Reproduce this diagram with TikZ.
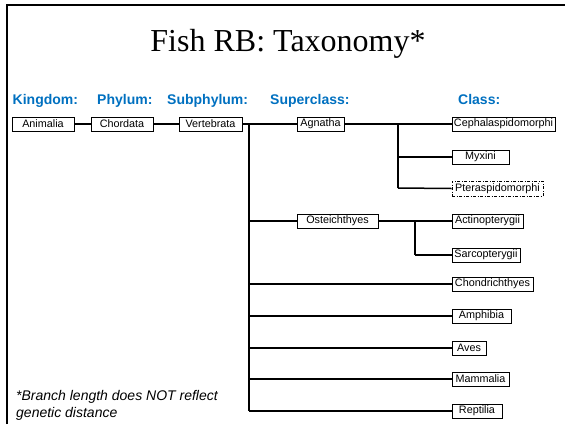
\documentclass[tikz,border=0pt]{standalone}
\usepackage{fontspec}
\setmainfont{Liberation Serif}
\setsansfont{Liberation Sans}
\definecolor{hdrblue}{RGB}{0,112,192}
\begin{document}
\begin{tikzpicture}[x=1pt,y=-1pt,
  taxbox/.style={draw=black,line width=0.9pt,fill=white,inner sep=0pt,minimum height=14pt,
    font=\sffamily\fontsize{10.8}{12}\selectfont},
  dashbox/.style={taxbox,dash pattern=on 3pt off 1.5pt on 1pt off 1.5pt},
  hdr/.style={anchor=base west,inner sep=0pt,text=hdrblue,font=\sffamily\bfseries\fontsize{14}{16}\selectfont},
  conn/.style={line width=1.5pt},
  trunk/.style={line width=2.2pt}]
\useasboundingbox (0,0) rectangle (565,424);
% frame
\draw[line width=2pt] (7,424) -- (7,5) -- (565,5);
% title
\node[anchor=base,inner sep=0pt,font=\fontsize{32}{36}\selectfont] (title) at (288,51) {Fish RB: Taxonomy*};
% headers
\node[hdr] (hk) at (12.5,104) {Kingdom:};
\node[hdr] (hp) at (97,104) {Phylum:};
\node[hdr] (hs) at (167,104) {Subphylum:};
\node[hdr] (hsc) at (270,104) {Superclass:};
\node[hdr] (hc) at (458,104) {Class:};
% coordinates for branch points
\coordinate (t1) at (249,124);
\coordinate (t2) at (249,221);
\coordinate (t3) at (249,284);
\coordinate (t4) at (249,316);
\coordinate (t5) at (249,348);
\coordinate (t6) at (249,379);
\coordinate (t7) at (249,411);
\coordinate (a1) at (398,124);
\coordinate (a2) at (398,157);
\coordinate (a3) at (398,188);
\coordinate (o1) at (415,221);
\coordinate (o2) at (415,255);
% connectors
\draw[trunk] (t1) -- (t7);
\draw[conn] (a1) -- (a3);
\draw[conn] (o1) -- (o2);
% boxes
\node[taxbox,minimum width=62pt] (animalia) at (43,124) {Animalia};
\node[taxbox,minimum width=62pt] (chordata) at (122,124) {Chordata};
\node[taxbox,minimum width=63pt] (vertebrata) at (210.5,124) {Vertebrata};
\node[taxbox,minimum width=47pt] (agnatha) at (320.5,124) {Agnatha};
\node[taxbox,minimum width=103pt] (ceph) at (503.5,124) {Cephalaspidomorphi};
\node[taxbox,minimum width=57pt] (myxini) at (480.5,157) {Myxini};
\node[dashbox,minimum width=91pt,minimum height=15pt] (ptera) at (497.5,188.5) {Pteraspidomorphi};
\node[taxbox,minimum width=81pt] (osteich) at (337.5,221) {Osteichthyes};
\node[taxbox,minimum width=71pt] (actino) at (487.5,221) {Actinopterygii};
\node[taxbox,minimum width=68pt] (sarco) at (486,255) {Sarcopterygii};
\node[taxbox,minimum width=81pt] (chondr) at (492.5,284) {Chondrichthyes};
\node[taxbox,minimum width=59pt] (amphibia) at (481.5,316) {Amphibia};
\node[taxbox,minimum width=34pt] (aves) at (469,348) {Aves};
\node[taxbox,minimum width=57pt] (mammalia) at (480.5,379) {Mammalia};
\node[taxbox,minimum width=50pt] (reptilia) at (477,411) {Reptilia};
% edges
\draw[line width=2pt] (animalia) -- (chordata);
\draw[line width=2pt] (chordata) -- (vertebrata);
\draw[conn] (vertebrata) -- (agnatha);
\draw[conn] (agnatha) -- (ceph);
\draw[conn] (a2) -- (myxini);
\draw[conn] (a3) -- (ptera.west);
\draw[conn] (t2) -- (osteich);
\draw[conn] (osteich) -- (actino);
\draw[conn] (o2) -- (sarco);
\draw[conn] (t3) -- (chondr);
\draw[conn] (t4) -- (amphibia);
\draw[conn] (t5) -- (aves);
\draw[conn] (t6) -- (mammalia);
\draw[conn] (t7) -- (reptilia);
% footnote
\node[anchor=base west,inner sep=0pt,align=left,font=\sffamily\itshape\fontsize{14}{17}\selectfont] (note) at (16,417) {*Branch length does NOT reflect\\genetic distance};
\end{tikzpicture}
\end{document}
